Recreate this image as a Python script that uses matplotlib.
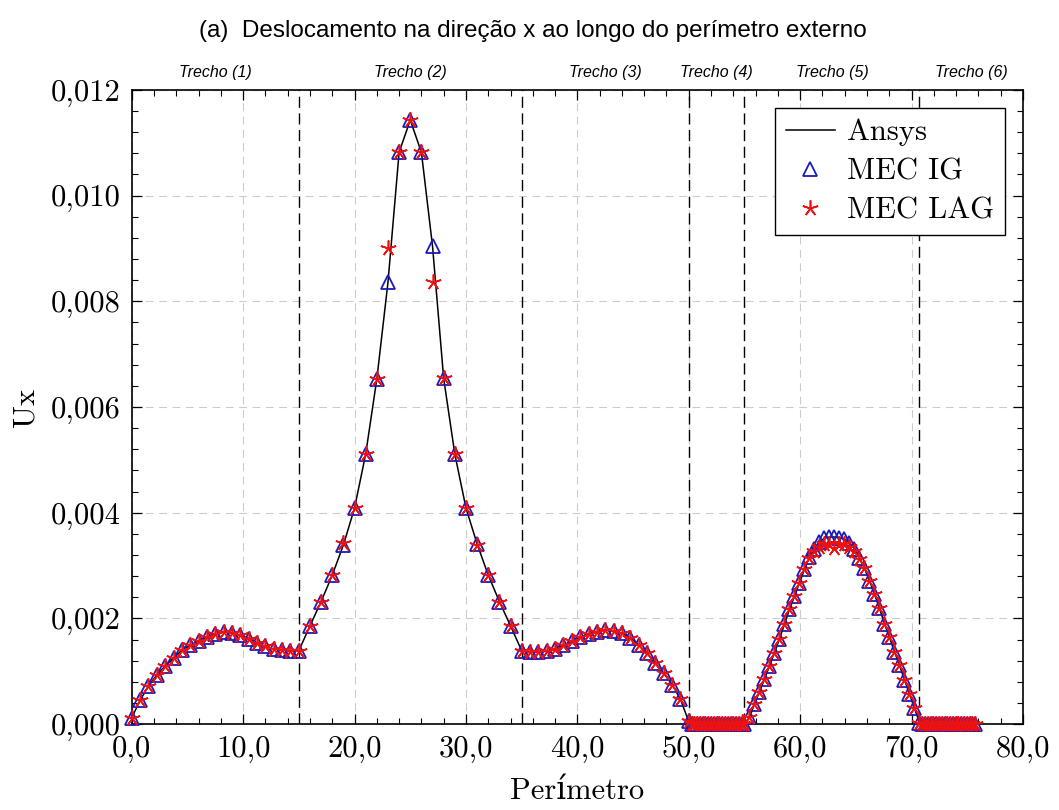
import matplotlib
matplotlib.use('Agg')
import matplotlib.pyplot as plt
from matplotlib.ticker import MultipleLocator
import numpy as np

plt.rcParams['font.family'] = ['cmr10', 'DejaVu Serif']
plt.rcParams['mathtext.fontset'] = 'cm'
plt.rcParams['axes.unicode_minus'] = False

# limites dos trechos ao longo do perimetro
limites = [15.0, 35.0, 50.0, 55.0, 70.708]
trechos = ['Trecho (1)', 'Trecho (2)', 'Trecho (3)', 'Trecho (4)', 'Trecho (5)', 'Trecho (6)']
trecho_x = [7.5, 25.0, 42.5, 52.5, 62.85, 75.35]

# trecho 1
x1 = [0.0, 0.75, 1.5, 2.25, 3.0, 3.75, 4.5, 5.25, 6.0, 6.75, 7.5, 8.25, 9.0, 9.75,
      10.5, 11.25, 12.0, 12.75, 13.5, 14.25, 15.0]
u1 = [0.00012, 0.00045, 0.00072, 0.00093, 0.00110, 0.00125, 0.00140, 0.00149, 0.00157,
      0.00165, 0.00171, 0.00174, 0.00173, 0.00168, 0.00162, 0.00154, 0.00147, 0.00142,
      0.00140, 0.00139, 0.00139]
# trecho 2
x2 = [16.0, 17.0, 18.0, 19.0, 20.0, 21.0, 22.0, 23.0, 24.0, 25.0, 26.0, 27.0, 28.0,
      29.0, 30.0, 31.0, 32.0, 33.0, 34.0, 35.0]
u2_ig = [0.00186, 0.00232, 0.00282, 0.00339, 0.00409, 0.00511, 0.00653, 0.00836, 0.01082,
         0.01143, 0.01082, 0.00904, 0.00654, 0.00511, 0.00409, 0.00341, 0.00282, 0.00232,
         0.00186, 0.00139]
u2_lag = [0.00186, 0.00232, 0.00282, 0.00342, 0.00409, 0.00511, 0.00653, 0.00901, 0.01082,
          0.01143, 0.01082, 0.00837, 0.00654, 0.00511, 0.00409, 0.00338, 0.00282, 0.00232,
          0.00186, 0.00139]
# trecho 3
x3 = [35.75, 36.5, 37.25, 38.0, 38.75, 39.5, 40.25, 41.0, 41.75, 42.5, 43.25, 44.0,
      44.75, 45.5, 46.25, 47.0, 47.75, 48.5, 49.25, 50.0]
u3 = [0.00136, 0.00136, 0.00138, 0.00143, 0.00149, 0.00157, 0.00164, 0.00171, 0.00175,
      0.00178, 0.00176, 0.00172, 0.00163, 0.00150, 0.00134, 0.00116, 0.00096, 0.00075,
      0.00047, 0.00005]
# trecho 4
x4 = [50.25, 50.5, 50.75, 51.0, 51.25, 51.5, 51.75, 52.0, 52.25, 52.5, 52.75, 53.0,
      53.25, 53.5, 53.75, 54.0, 54.25, 54.5, 54.75, 55.0]
u4 = [0.00001, 0.00001, 0.00001, 0.00001, 0.00001, 0.00001, 0.00001, 0.00001, 0.00001,
      0.00001, 0.00001, 0.00001, 0.00001, 0.00001, 0.00001, 0.00001, 0.00001, 0.00001,
      0.00001, 0.00001]
# trecho 5 (semicirculo)
x5 = [55.449, 55.898, 56.346, 56.795, 57.244, 57.693, 58.142, 58.590, 59.039, 59.488,
      59.937, 60.386, 60.834, 61.283, 61.732, 62.181, 62.630, 63.078, 63.527, 63.976,
      64.425, 64.874, 65.322, 65.771, 66.220, 66.669, 67.118, 67.566, 68.015, 68.464,
      68.913, 69.362, 69.810, 70.259, 70.708]
u5_ig = [0.00013, 0.00038, 0.00061, 0.00085, 0.00110, 0.00135, 0.00161, 0.00189, 0.00217,
         0.00242, 0.00267, 0.00293, 0.00316, 0.00332, 0.00345, 0.00352, 0.00354, 0.00354,
         0.00353, 0.00350, 0.00343, 0.00332, 0.00315, 0.00295, 0.00271, 0.00246, 0.00219,
         0.00190, 0.00164, 0.00137, 0.00111, 0.00084, 0.00057, 0.00030, 0.00003]
u5_lag = [0.00013, 0.00038, 0.00061, 0.00085, 0.00110, 0.00135, 0.00161, 0.00189, 0.00217,
          0.00242, 0.00267, 0.00293, 0.00314, 0.00327, 0.00336, 0.00340, 0.00341, 0.00334,
          0.00341, 0.00340, 0.00336, 0.00328, 0.00313, 0.00295, 0.00271, 0.00246, 0.00219,
          0.00190, 0.00164, 0.00137, 0.00111, 0.00084, 0.00057, 0.00030, 0.00003]
# trecho 6
x6 = [70.958, 71.208, 71.458, 71.708, 71.958, 72.208, 72.458, 72.708, 72.958, 73.208,
      73.458, 73.708, 73.958, 74.208, 74.458, 74.708, 74.958, 75.208, 75.458, 75.708]
u6 = [0.00001, 0.00001, 0.00001, 0.00001, 0.00001, 0.00001, 0.00001, 0.00001, 0.00001,
      0.00001, 0.00001, 0.00001, 0.00001, 0.00001, 0.00001, 0.00001, 0.00001, 0.00001,
      0.00001, 0.00001]

xticks = [0, 10, 20, 30, 40, 50, 60, 70, 80]
xlabels = ['0,0', '10,0', '20,0', '30,0', '40,0', '50,0', '60,0', '70,0', '80,0']
yticks = [0.0, 0.002, 0.004, 0.006, 0.008, 0.010, 0.012]
ylabels = ['0,000', '0,002', '0,004', '0,006', '0,008', '0,010', '0,012']

x = np.array(x1 + x2 + x3 + x4 + x5 + x6)
u_ig = np.array(u1 + u2_ig + u3 + u4 + u5_ig + u6)
u_lag = np.array(u1 + u2_lag + u3 + u4 + u5_lag + u6)
u_ansys = u_ig

fig = plt.figure(figsize=(10.59, 8.10), dpi=100)
ax = fig.add_axes([0.1244, 0.106, 0.966 - 0.1244, 0.889 - 0.106])

ax.grid(True, which='major', color='#cccccc', linestyle=(0, (7, 5)), linewidth=0.8)
for xl in limites:
    ax.axvline(xl, color='black', linestyle=(0, (8, 4)), linewidth=1.0, zorder=2)

ax.plot(x, u_ansys, color='black', linewidth=1.1, label='Ansys', zorder=3)
ax.plot(x, u_ig, linestyle='none', marker='^', markersize=10.5, markerfacecolor='none',
        markeredgecolor='#1a1ab8', markeredgewidth=1.3, label='MEC IG', clip_on=False, zorder=4)
ax.plot(x, u_lag, linestyle='none', marker=(5, 2, 0), markersize=11.5,
        color='#ee1111', markeredgewidth=1.2, label='MEC LAG', clip_on=False, zorder=5)

ax.set_xlim(0, 80)
ax.set_ylim(0, 0.012)
ax.set_xticks(xticks)
ax.set_xticklabels(xlabels)
ax.set_yticks(yticks)
ax.set_yticklabels(ylabels)
ax.xaxis.set_minor_locator(MultipleLocator(2))
ax.yaxis.set_minor_locator(MultipleLocator(0.0004))
ax.tick_params(which='both', direction='in', top=True, right=True, labelsize=22)
ax.tick_params(which='major', length=7, width=0.9, pad=8)
ax.tick_params(which='minor', length=4, width=0.8)
for s in ax.spines.values():
    s.set_linewidth(1.2)

ax.set_xlabel('Perímetro', fontsize=22, labelpad=11)
ax.set_ylabel('Ux', fontsize=22, labelpad=8)

leg = ax.legend(loc='upper right', fontsize=22, frameon=True, fancybox=False,
                edgecolor='black', framealpha=1, handlelength=1.6, handletextpad=0.4,
                labelspacing=0.38, borderpad=0.35, borderaxespad=0.6)
leg.get_frame().set_linewidth(1.0)

for nome, xt in zip(trechos, trecho_x):
    ax.text(xt, 1.028, nome, transform=ax.get_xaxis_transform(), ha='center', va='center',
            fontsize=11.5, style='italic', family=['Liberation Sans', 'DejaVu Sans'])

fig.text(0.503, 0.962, '(a)  Deslocamento na direção x ao longo do perímetro externo',
         ha='center', va='center', fontsize=17.5, family=['Liberation Sans', 'DejaVu Sans'])

fig.savefig('out.png', dpi=100)
